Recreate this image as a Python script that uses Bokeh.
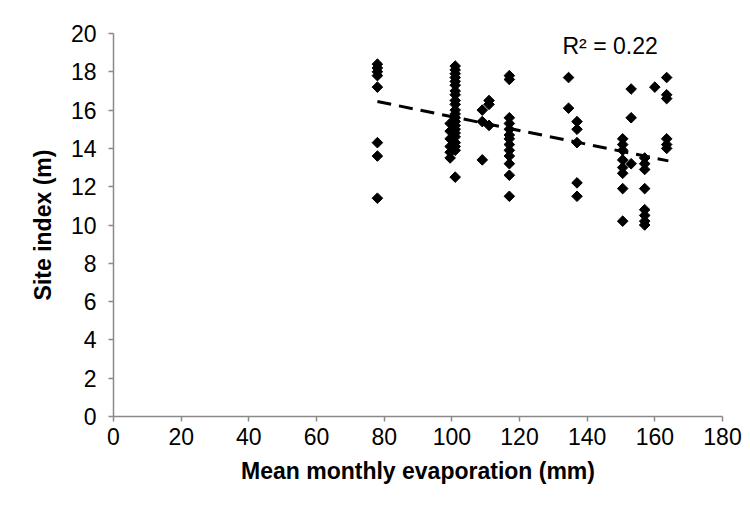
import math
from bokeh.plotting import figure
from bokeh.models import Range1d, Label, FixedTicker
from bokeh.embed import file_html
from bokeh.resources import INLINE

# Mean monthly evaporation (mm) per site, and site index (m)
evap_78 = [78] * 8
site_78 = [18.4, 18.2, 18.0, 17.8, 17.2, 14.3, 13.6, 11.4]
evap_101 = [101] * 22
site_101 = [18.3, 18.1, 17.9, 17.7, 17.5, 17.3, 17.0, 16.8, 16.5, 16.3, 16.0,
            15.8, 15.6, 15.4, 15.2, 15.0, 14.8, 14.6, 14.3, 14.1, 13.9, 12.5]
evap_99 = [99.5] * 6
site_99 = [15.3, 14.9, 14.5, 14.1, 13.8, 13.5]
evap_109 = [109] * 3
site_109 = [16.0, 15.4, 13.4]
evap_111 = [111] * 3
site_111 = [16.5, 16.3, 15.2]
evap_117 = [117] * 13
site_117 = [17.8, 17.6, 15.6, 15.3, 15.0, 14.7, 14.5, 14.2, 13.9, 13.6, 13.2, 12.6, 11.5]
evap_134 = [134.5] * 2
site_134 = [17.7, 16.1]
evap_137 = [137] * 5
site_137 = [15.4, 15.0, 14.3, 12.2, 11.5]
evap_150 = [150.5] * 8
site_150 = [14.5, 14.2, 13.9, 13.4, 13.0, 12.7, 11.9, 10.2]
evap_153 = [153] * 3
site_153 = [17.1, 15.6, 13.2]
evap_157 = [157] * 8
site_157 = [13.5, 13.2, 12.9, 11.9, 10.8, 10.5, 10.2, 10.0]
evap_160 = [160]
site_160 = [17.2]
evap_163 = [163.5] * 6
site_163 = [17.7, 16.8, 16.6, 14.5, 14.2, 14.0]

evap = (evap_78 + evap_101 + evap_99 + evap_109 + evap_111 + evap_117 + evap_134
        + evap_137 + evap_150 + evap_153 + evap_157 + evap_160 + evap_163)
site = (site_78 + site_101 + site_99 + site_109 + site_111 + site_117 + site_134
        + site_137 + site_150 + site_153 + site_157 + site_160 + site_163)

# Linear trend line end points
trend_x = [78, 164]
trend_y = [16.45, 13.35]

x_ticks = [0, 20, 40, 60, 80, 100, 120, 140, 160, 180]
y_ticks = [0, 2, 4, 6, 8, 10, 12, 14, 16, 18, 20]
r2_text = "R² = 0.22"

FONT = "Liberation Sans"
AXIS_COLOR = "#8a8a8a"

p = figure(width=742, height=495, output_backend="svg", toolbar_location=None,
           x_range=Range1d(0, 180), y_range=Range1d(0, 20),
           min_border_left=113, min_border_right=20, min_border_top=33,
           min_border_bottom=79)
p.outline_line_color = None
p.grid.grid_line_color = None
p.background_fill_color = "white"
p.border_fill_color = "white"

p.xaxis.ticker = FixedTicker(ticks=x_ticks)
p.yaxis.ticker = FixedTicker(ticks=y_ticks)
for ax in (p.xaxis, p.yaxis):
    ax.axis_line_color = AXIS_COLOR
    ax.axis_line_width = 1.5
    ax.major_tick_line_color = AXIS_COLOR
    ax.major_tick_line_width = 1.5
    ax.major_tick_in = 0
    ax.major_tick_out = 5
    ax.minor_tick_line_color = None
    ax.major_label_text_font = FONT
    ax.major_label_text_font_size = "23px"
    ax.major_label_text_color = "black"
    ax.axis_label_text_font = FONT
    ax.axis_label_text_font_size = "23px"
    ax.axis_label_text_font_style = "bold"
    ax.axis_label_text_color = "black"

p.xaxis.axis_label = "Mean monthly evaporation (mm)"
p.yaxis.axis_label = "Site index (m)"
p.xaxis.major_label_standoff = 6
p.yaxis.major_label_standoff = 12
p.xaxis.axis_label_standoff = 10
p.yaxis.axis_label_standoff = 12

p.scatter(evap, site, marker="square", angle=math.pi / 4, size=7.5,
          fill_color="black", line_color="black")
p.line(trend_x, trend_y, line_color="black", line_width=3, line_dash="14 8")

p.add_layout(Label(x=132.7, y=19.37, text=r2_text, text_font=FONT,
                   text_font_size="23px", text_baseline="middle",
                   text_color="black"))

open("out.html", "w").write(file_html(p, INLINE))
